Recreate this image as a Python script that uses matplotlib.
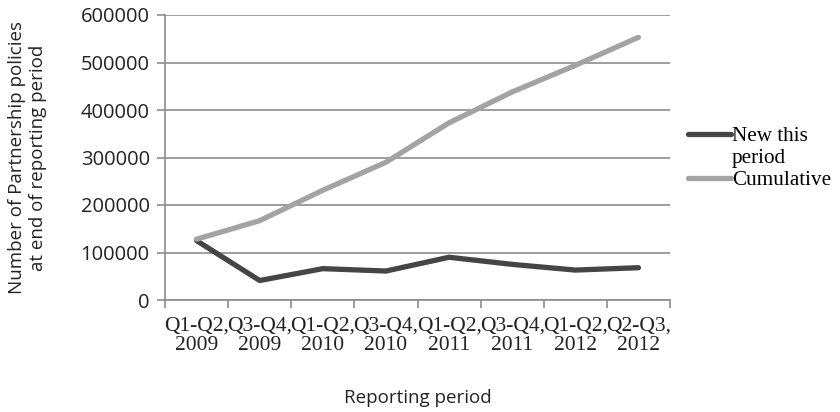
import matplotlib
matplotlib.use("Agg")
import matplotlib.pyplot as plt
from matplotlib.legend_handler import HandlerLine2D
import numpy as np

periods = ["Q1-Q2,\n2009", "Q3-Q4,\n2009", "Q1-Q2,\n2010", "Q3-Q4,\n2010",
           "Q1-Q2,\n2011", "Q3-Q4,\n2011", "Q1-Q2,\n2012", "Q2-Q3,\n2012"]
new_this_period = [125000, 41000, 66000, 61000, 90000, 75000, 63000, 68000]
cumulative = [128000, 167000, 231000, 290000, 373000, 438000, 494000, 553000]
y_ticks = [0, 100000, 200000, 300000, 400000, 500000, 600000]


class RaisedLine(HandlerLine2D):
    """Legend line drawn level with the first line of a wrapped label."""

    def __init__(self, lift, **kw):
        super().__init__(**kw)
        self.lift = lift

    def create_artists(self, legend, orig_handle, xdescent, ydescent,
                       width, height, fontsize, trans):
        return super().create_artists(legend, orig_handle, xdescent,
                                      ydescent - 2 * self.lift, width, height,
                                      fontsize, trans)


fig = plt.figure(figsize=(8.4, 4.12), dpi=100)
ax = fig.add_axes([165 / 840, 1 - 300 / 412, 505 / 840, 285 / 412])

x = np.arange(len(periods))
l_new, = ax.plot(x, new_this_period, color="#454545", lw=3.8,
                 solid_capstyle="round", label="New this\nperiod", zorder=3)
l_cum, = ax.plot(x, cumulative, color="#a3a3a3", lw=3.8,
                 solid_capstyle="round", label="Cumulative", zorder=3)

ax.set_xlim(-0.5, len(periods) - 0.5)
ax.set_ylim(0, 600000)
ax.set_yticks(y_ticks)
ax.set_yticklabels([str(v) for v in y_ticks], fontfamily="Open Sans",
                   fontsize=14.5, color="#222222")
ax.yaxis.grid(True, color="#8c8c8c", lw=1.2)
ax.set_axisbelow(True)

ax.set_xticks(np.arange(len(periods) + 1) - 0.5)
ax.set_xticklabels([])
ax.set_xticks(x, minor=True)
ax.set_xticklabels(periods, minor=True, fontfamily="Liberation Serif",
                   fontsize=15.5, color="#222222", linespacing=1.05)
ax.tick_params(axis="x", which="major", length=6, color="#8c8c8c", width=1.2)
ax.tick_params(axis="x", which="minor", length=0, pad=12)
ax.tick_params(axis="y", length=6, color="#8c8c8c", width=1.2, pad=5)

for s in ["top", "right"]:
    ax.spines[s].set_visible(False)
for s in ["left", "bottom"]:
    ax.spines[s].set_color("#8c8c8c")
    ax.spines[s].set_linewidth(1.2)

ax.set_xlabel("Reporting period", fontfamily="Open Sans", fontsize=13.5,
              labelpad=24, color="#222222")
ax.set_ylabel("Number of Partnership policies\nat end of reporting period",
              fontfamily="Open Sans", fontsize=13.5, color="#222222", labelpad=24)

leg = fig.legend(handles=[l_new, l_cum],
                 handler_map={l_new: RaisedLine(10)},
                 loc="upper left", bbox_to_anchor=(680 / 840, 1 - 119 / 412),
                 frameon=False, handlelength=2.0, handletextpad=0.05,
                 prop={"family": "Liberation Serif", "size": 15.2},
                 labelspacing=0.1, borderaxespad=0)

fig.savefig("out.png", dpi=100)
